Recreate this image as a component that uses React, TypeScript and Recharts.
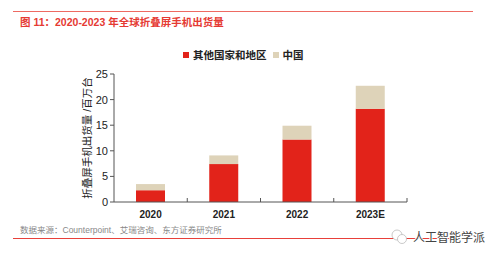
import { BarChart, Bar, XAxis, YAxis, Legend } from 'recharts';

const years = ['2020', '2021', '2022', '2023E'];
const otherRegions = [2.3, 7.4, 12.2, 18.2];
const china = [1.2, 1.7, 2.7, 4.5];
const yTicks = [0, 5, 10, 15, 20, 25];
const seriesNames = ['其他国家和地区', '中国'];

const data = years.map((year, i) => ({ year, other: otherRegions[i], china: china[i] }));

const FONT = '"Liberation Sans", Arial, "Noto Sans CJK SC", sans-serif';
const RED = '#e2231a';
const BEIGE = '#ded3b9';
const AXIS_COLOR = '#555';
const X_TICK_MARGIN = 9;

// category label plus a short upward tick at the right edge of each band
function XTick(props: any) {
  const { x, y, payload, width, visibleTicksCount } = props;
  const half = width / visibleTicksCount / 2;
  const axisY = y - X_TICK_MARGIN;
  return (
    <g>
      <line x1={x + half} x2={x + half} y1={axisY} y2={axisY - 4} stroke={AXIS_COLOR} strokeWidth={1} />
      <text x={x} y={y} dy="0.71em" textAnchor="middle" fill="#222" fontSize={10} fontWeight="bold" fontFamily={FONT}>
        {payload.value}
      </text>
    </g>
  );
}

function YLabel(props: any) {
  const { viewBox } = props;
  const cx = 87;
  const cy = viewBox.y + viewBox.height / 2;
  return (
    <text
      x={cx}
      y={cy}
      transform={`rotate(-90, ${cx}, ${cy})`}
      textAnchor="middle"
      dominantBaseline="central"
      fill="#222"
      fontSize={10.5}
      fontFamily={FONT}
    >
      折叠屏手机出货量 /百万台
    </text>
  );
}

function LegendRow({ payload }: any) {
  const items = [...(payload || [])].sort((a: any, b: any) => seriesNames.indexOf(a.value) - seriesNames.indexOf(b.value));
  return (
    <div style={{ display: 'flex', alignItems: 'center', fontFamily: FONT, fontSize: 10.5, fontWeight: 'bold', color: '#222' }}>
      {items.map((p: any, i: number) => (
        <div key={i} style={{ display: 'flex', alignItems: 'center', marginRight: 6 }}>
          <span style={{ width: 6, height: 6, background: p.color, marginRight: 4, display: 'inline-block' }} />
          <span>{p.value}</span>
        </div>
      ))}
    </div>
  );
}

export default function App() {
  return (
    <div style={{ position: 'absolute', left: 0, top: 0, width: 500, height: 258, background: '#fff', fontFamily: FONT, overflow: 'hidden' }}>
      <div style={{ position: 'absolute', left: 13, top: 11, width: 460, height: 1, background: '#ee6a62' }} />
      <div style={{ position: 'absolute', left: 20, top: 14, fontSize: 10.5, fontWeight: 'bold', color: '#e53a33', whiteSpace: 'nowrap' }}>
        图 11：2020-2023 年全球折叠屏手机出货量
      </div>

      <div style={{ position: 'absolute', left: 0, top: 0 }}>
        <BarChart width={500} height={258} data={data} margin={{ top: 74, right: 93, left: 0, bottom: 36 }}>
          <XAxis
            dataKey="year"
            height={20}
            tickLine={false}
            tickSize={0}
            tickMargin={X_TICK_MARGIN}
            axisLine={{ stroke: AXIS_COLOR }}
            tick={<XTick />}
            interval={0}
          />
          <YAxis
            width={114}
            domain={[0, 25]}
            ticks={yTicks}
            tickSize={4}
            tickMargin={2}
            axisLine={{ stroke: AXIS_COLOR }}
            tickLine={{ stroke: AXIS_COLOR }}
            tick={{ fill: '#222', fontSize: 11, fontFamily: FONT }}
            label={(p: any) => <YLabel {...p} />}
          />
          <Legend
            verticalAlign="middle"
            align="center"
            layout="horizontal"
            wrapperStyle={{ top: 47, left: 183, width: 'auto' }}
            content={<LegendRow />}
          />
          <Bar dataKey="other" name={seriesNames[0]} stackId="a" fill={RED} barSize={29} isAnimationActive={false} />
          <Bar dataKey="china" name={seriesNames[1]} stackId="a" fill={BEIGE} barSize={29} isAnimationActive={false} />
        </BarChart>
      </div>

      <div style={{ position: 'absolute', left: 20, top: 223, fontSize: 8.5, color: '#888', whiteSpace: 'nowrap' }}>
        数据来源：Counterpoint、艾瑞咨询、东方证券研究所
      </div>
      <div style={{ position: 'absolute', left: 13, top: 238, width: 460, height: 1, background: '#e8403a' }} />

      <svg style={{ position: 'absolute', left: 385, top: 224 }} width={110} height={28}>
        <circle cx={12} cy={11} r={5} fill="#fff" stroke="#bbb" strokeWidth={0.8} />
        <circle cx={17} cy={15} r={4.5} fill="#fff" stroke="#bbb" strokeWidth={0.8} />
        <text
          x={28}
          y={14}
          dominantBaseline="central"
          fontSize={12}
          fontFamily={FONT}
          fill="#444"
          stroke="#fff"
          strokeWidth={2}
          paintOrder="stroke"
        >
          人工智能学派
        </text>
      </svg>
    </div>
  );
}
